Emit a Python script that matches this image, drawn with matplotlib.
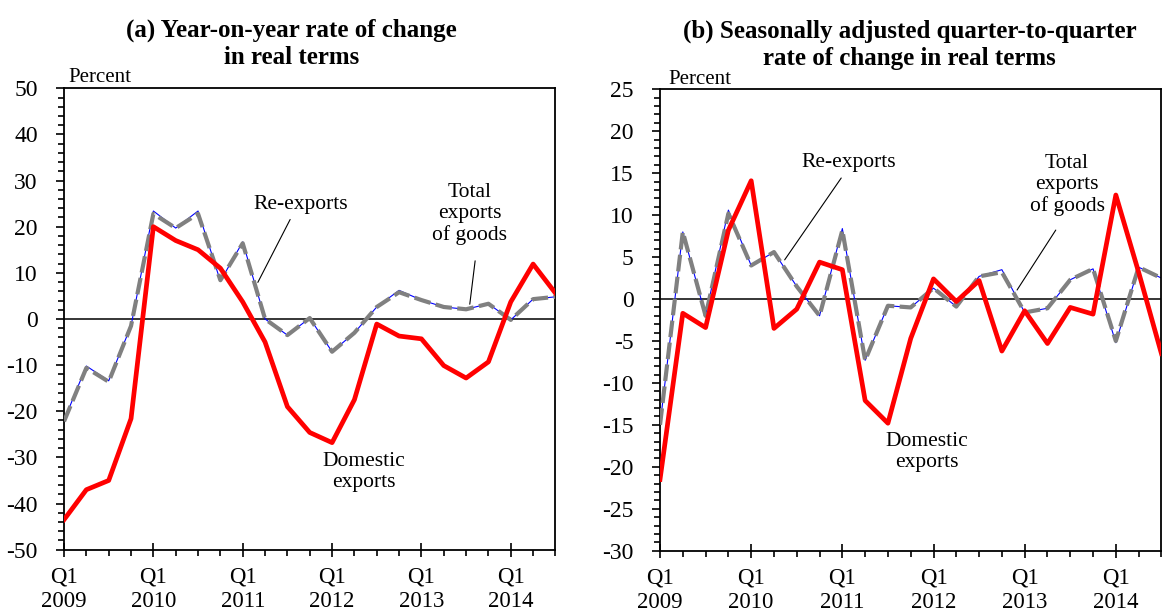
import matplotlib
matplotlib.use('Agg')
import matplotlib.pyplot as plt
from matplotlib.ticker import MultipleLocator

plt.rcParams['font.family'] = ['Liberation Serif', 'DejaVu Serif']
plt.rcParams['axes.unicode_minus'] = False

# quarters Q1 2009 .. Q3 2014
quarters = list(range(23))
years = ['2009', '2010', '2011', '2012', '2013', '2014']

# (a) year-on-year, percent
dom_yoy = [-43.5, -37, -35, -21.6, 20, 17, 15, 11, 3.7, -5, -19, -24.6, -26.8,
           -17.5, -1.1, -3.7, -4.3, -10.1, -12.8, -9.3, 3.7, 11.9, 5.6]
reexp_yoy = [-22, -10.2, -13.4, -1.5, 23.4, 19.7, 23.4, 8.2, 16.7, 0, -3.5, 0.2,
             -7.1, -3, 2.6, 6.2, 4.1, 2.6, 2.1, 3.3, -0.2, 4.3, 4.8]
total_yoy = [-22.2, -10.6, -13.6, -1.5, 22.8, 19.7, 22.8, 8.4, 16.4, 0, -3.5, 0.2,
             -7.1, -3, 2.6, 5.8, 4.1, 2.6, 2.1, 3.3, -0.2, 4.3, 4.8]

# (b) seasonally adjusted q-o-q, percent
dom_qoq = [-21.5, -1.7, -3.4, 8.2, 14.1, -3.5, -1.2, 4.4, 3.5, -12.1, -14.8, -4.7,
           2.4, -0.3, 2.2, -6.2, -1.4, -5.3, -1.0, -1.8, 12.4, 3.2, -6.5]
reexp_qoq = [-15, 8.0, -2.0, 10.6, 4.0, 5.6, 1.5, -2.0, 8.4, -7.3, -0.8, -1.0,
             1.3, -0.9, 2.7, 3.5, -1.6, -1.1, 2.3, 3.6, -5.2, 3.8, 2.5]
total_qoq = [-15, 8.0, -2.0, 10.2, 4.0, 5.6, 1.5, -2.0, 8.2, -7.3, -0.8, -1.0,
             1.3, -0.9, 2.7, 3.2, -1.6, -1.1, 2.3, 3.6, -5.0, 3.8, 2.5]

fig = plt.figure(figsize=(11.62, 6.13), dpi=100)
ax1 = fig.add_axes([0.0551, 0.1033, 0.4229, 0.7527])
ax2 = fig.add_axes([0.568, 0.1016, 0.4315, 0.7527])


def draw(ax, dom, reexp, total, ylo, yhi, ystep, yminor):
    ax.plot(quarters, reexp, color='blue', lw=0.8, zorder=2)
    ax.plot(quarters, total, color='#808080', lw=3, dashes=(4, 1.3), zorder=3)
    ax.plot(quarters, dom, color='red', lw=3.4, zorder=4)
    ax.axhline(0, color='black', lw=1.1, zorder=1)
    ax.set_xlim(0, 22)
    ax.set_ylim(ylo, yhi)
    ax.yaxis.set_major_locator(MultipleLocator(ystep))
    ax.yaxis.set_minor_locator(MultipleLocator(yminor))
    ax.set_xticks(range(0, 23, 4))
    ax.set_xticklabels(['Q1\n' + y for y in years], linespacing=1.2)
    ax.xaxis.set_minor_locator(MultipleLocator(1))
    ax.tick_params(axis='y', which='major', direction='out', length=6, width=1.2,
                   labelsize=17, pad=13)
    ax.tick_params(axis='y', which='minor', direction='out', length=4, width=1.2)
    ax.tick_params(axis='x', which='major', direction='inout', length=10, width=1.2,
                   labelsize=16.5, pad=7)
    ax.tick_params(axis='x', which='minor', direction='out', length=4, width=1.2)
    for s in ax.spines.values():
        s.set_linewidth(1.3)


draw(ax1, dom_yoy, reexp_yoy, total_yoy, -50, 50, 10, 2)
draw(ax2, dom_qoq, reexp_qoq, total_qoq, -30, 25, 5, 1)

lbl = dict(fontsize=15.5, ha='center', va='center', linespacing=1.15)
# panel (a) labels
ax1.text(10.58, 24.9, 'Re-exports', **lbl)
ax1.annotate('', xy=(8.62, 7.4), xytext=(10.18, 22.1),
             arrowprops=dict(arrowstyle='-', lw=0.8, color='black'))
ax1.text(18.15, 22.8, 'Total\nexports\nof goods', **lbl)
ax1.annotate('', xy=(18.15, 2.6), xytext=(18.42, 13.2),
             arrowprops=dict(arrowstyle='-', lw=0.8, color='black'))
ax1.text(13.43, -33.2, 'Domestic\nexports', **lbl)

# panel (b) labels
ax2.text(8.28, 16.3, 'Re-exports', **lbl)
ax2.annotate('', xy=(5.4, 4.4), xytext=(8.02, 14.7),
             arrowprops=dict(arrowstyle='-', lw=0.8, color='black'))
ax2.text(17.86, 13.6, 'Total\nexports\nof goods', **lbl)
ax2.annotate('', xy=(15.6, 0.8), xytext=(17.43, 8.5),
             arrowprops=dict(arrowstyle='-', lw=0.8, color='black'))
ax2.text(11.72, -18.2, 'Domestic\nexports', **lbl)

# titles and unit labels
fig.text(0.251, 1 - 43.5 / 613, '(a) Year-on-year rate of change\nin real terms',
         fontsize=18, fontweight='bold', ha='center', va='center', linespacing=1.2)
fig.text(0.783, 1 - 44.5 / 613, '(b) Seasonally adjusted quarter-to-quarter\nrate of change in real terms',
         fontsize=18, fontweight='bold', ha='center', va='center', linespacing=1.2)
fig.text(68 / 1162, 1 - 77 / 613, 'Percent', fontsize=15, ha='left', va='center')
fig.text(668 / 1162, 1 - 79 / 613, 'Percent', fontsize=15, ha='left', va='center')

plt.savefig('out.png', dpi=100)
